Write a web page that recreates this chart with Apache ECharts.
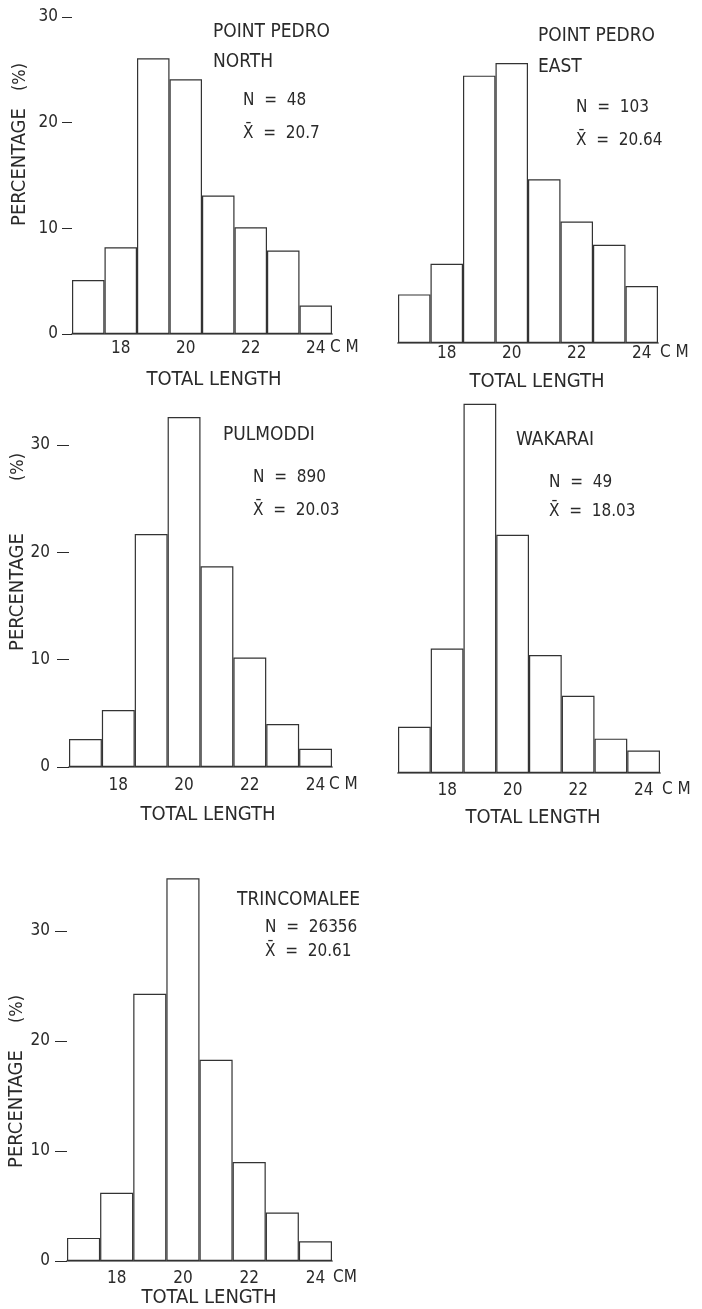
<!DOCTYPE html>
<html>
<head>
<meta charset="utf-8">
<script src="https://cdn.jsdelivr.net/npm/echarts@6/dist/echarts.min.js"></script>
<style>
  html, body { margin: 0; padding: 0; background: #fff; }
  #main { width: 702px; height: 1309px; }
</style>
</head>
<body>
<div id="main"></div>
<script>
// class centres, cm
var lengths = ["17", "18", "19", "20", "21", "22", "23", "24"];
// percentage per class
var pointPedroNorth = [5.1, 8.2, 26.1, 24.1, 13.1, 10.1, 7.9, 2.7];
var pointPedroEast = [4.6, 7.5, 25.3, 26.5, 15.5, 11.5, 9.3, 5.4];
var pulmoddi = [2.6, 5.3, 21.7, 32.6, 18.7, 10.2, 4.0, 1.7];
var wakarai = [4.3, 11.6, 34.4, 22.2, 11.0, 7.2, 3.2, 2.1];
var trincomalee = [2.1, 6.2, 24.3, 34.8, 18.3, 9.0, 4.4, 1.8];
var yTicks = [0, 10, 20, 30];

var titles = [["POINT PEDRO", "NORTH"], ["POINT PEDRO", "EAST"], ["PULMODDI"], ["WAKARAI"], ["TRINCOMALEE"]];
var nText = ["48", "103", "890", "49", "26356"];
var meanText = ["20.7", "20.64", "20.03", "18.03", "20.61"];

var allSeries = [pointPedroNorth, pointPedroEast, pulmoddi, wakarai, trincomalee];

// panel boxes: plot area of each histogram
var panels = [
  { left: 72, top: 17, width: 260, height: 317, yLabels: true, lblMargin: 6, tickLen: 10, yMargin: 14,
    title: [213, 32, 62], stats: [243, 101, 134], cm: [330, 348, "C M"], total: [214, 380], yname: [20, 77, 167] },
  { left: 398, top: 26, width: 260, height: 317, yLabels: false, lblMargin: 2,
    title: [538, 36, 67], stats: [576, 108, 141], cm: [660, 353, "C M"], total: [537, 382] },
  { left: 69, top: 445, width: 263, height: 322, yLabels: true, lblMargin: 10, tickLen: 12, yMargin: 19,
    title: [223, 435], stats: [253, 478, 511], cm: [329, 785, "C M"], total: [208, 815], yname: [18, 467, 592] },
  { left: 398, top: 451, width: 262, height: 322, yLabels: false, lblMargin: 9,
    title: [516, 440], stats: [549, 483, 512], cm: [662, 790, "C M"], total: [533, 818] },
  { left: 67, top: 931, width: 265, height: 330, yLabels: true, lblMargin: 9, tickLen: 12, yMargin: 17,
    title: [237, 900], stats: [265, 928, 952], cm: [333, 1278, "CM"], total: [209, 1298], yname: [17, 1009, 1109] }
];

var FONT = "'DejaVu Sans Condensed', 'Liberation Sans Narrow', 'DejaVu Sans', sans-serif";
var INK = "#2a2a2a";

var grid = [], xAxis = [], yAxis = [], series = [], graphic = [];

function txt(x, y, s, size, extra) {
  var el = {
    type: "text",
    x: x,
    y: y,
    style: {
      text: s,
      fill: INK,
      font: "normal " + size + "px " + FONT,
      align: "left",
      verticalAlign: "middle"
    }
  };
  if (extra) {
    for (var k in extra) el.style[k] = extra[k];
  }
  return el;
}

panels.forEach(function (p, i) {
  grid.push({ left: p.left, top: p.top, width: p.width, height: p.height, containLabel: false });
  xAxis.push({
    type: "category",
    gridIndex: i,
    data: lengths,
    boundaryGap: true,
    axisLine: { show: true, lineStyle: { color: "#888", width: 2 } },
    axisTick: { show: false },
    axisLabel: {
      margin: p.lblMargin,
      color: INK,
      fontSize: 17,
      fontFamily: FONT,
      interval: function (idx, val) {
        return Number(val) % 2 === 0;
      }
    },
    splitLine: { show: false }
  });
  yAxis.push({
    type: "value",
    gridIndex: i,
    min: yTicks[0],
    max: yTicks[yTicks.length - 1],
    interval: 10,
    axisLine: { show: false },
    axisTick: { show: p.yLabels, length: p.tickLen || 0, lineStyle: { color: INK, width: 1 } },
    axisLabel: { show: p.yLabels, margin: p.yMargin || 0, color: INK, fontSize: 17, fontFamily: FONT },
    splitLine: { show: false }
  });
  series.push({
    type: "bar",
    xAxisIndex: i,
    yAxisIndex: i,
    data: allSeries[i],
    barCategoryGap: "0%",
    clip: false,
    silent: true,
    itemStyle: { color: "#fff", borderColor: "#333", borderWidth: 1.2 }
  });

  // place name, N and mean
  var t = titles[i];
  graphic.push(txt(p.title[0], p.title[1], t[0], 19));
  if (t.length > 1) graphic.push(txt(p.title[0], p.title[2], t[1], 19));
  graphic.push(txt(p.stats[0], p.stats[1], "N  =  " + nText[i], 17));
  graphic.push(txt(p.stats[0], p.stats[2], "X\u0304  =  " + meanText[i], 17));
  // unit and axis title
  graphic.push(txt(p.cm[0], p.cm[1], p.cm[2], 17));
  graphic.push(txt(p.total[0], p.total[1], "TOTAL LENGTH", 20, { align: "center" }));
  if (p.yname) {
    var a = txt(p.yname[0], p.yname[1], "(%)", 18, { align: "center" });
    a.rotation = Math.PI / 2;
    graphic.push(a);
    var b = txt(p.yname[0], p.yname[2], "PERCENTAGE", 20, { align: "center" });
    b.rotation = Math.PI / 2;
    graphic.push(b);
  }
});

var myChart = echarts.init(document.getElementById("main"), null, { renderer: "canvas" });
var option;
option = {
  backgroundColor: "#fff",
  animation: false,
  grid: grid,
  xAxis: xAxis,
  yAxis: yAxis,
  series: series,
  graphic: graphic
};
if (option && typeof option === "object") {
  myChart.setOption(option);
}
window.addEventListener("resize", myChart.resize);
</script>
</body>
</html>
